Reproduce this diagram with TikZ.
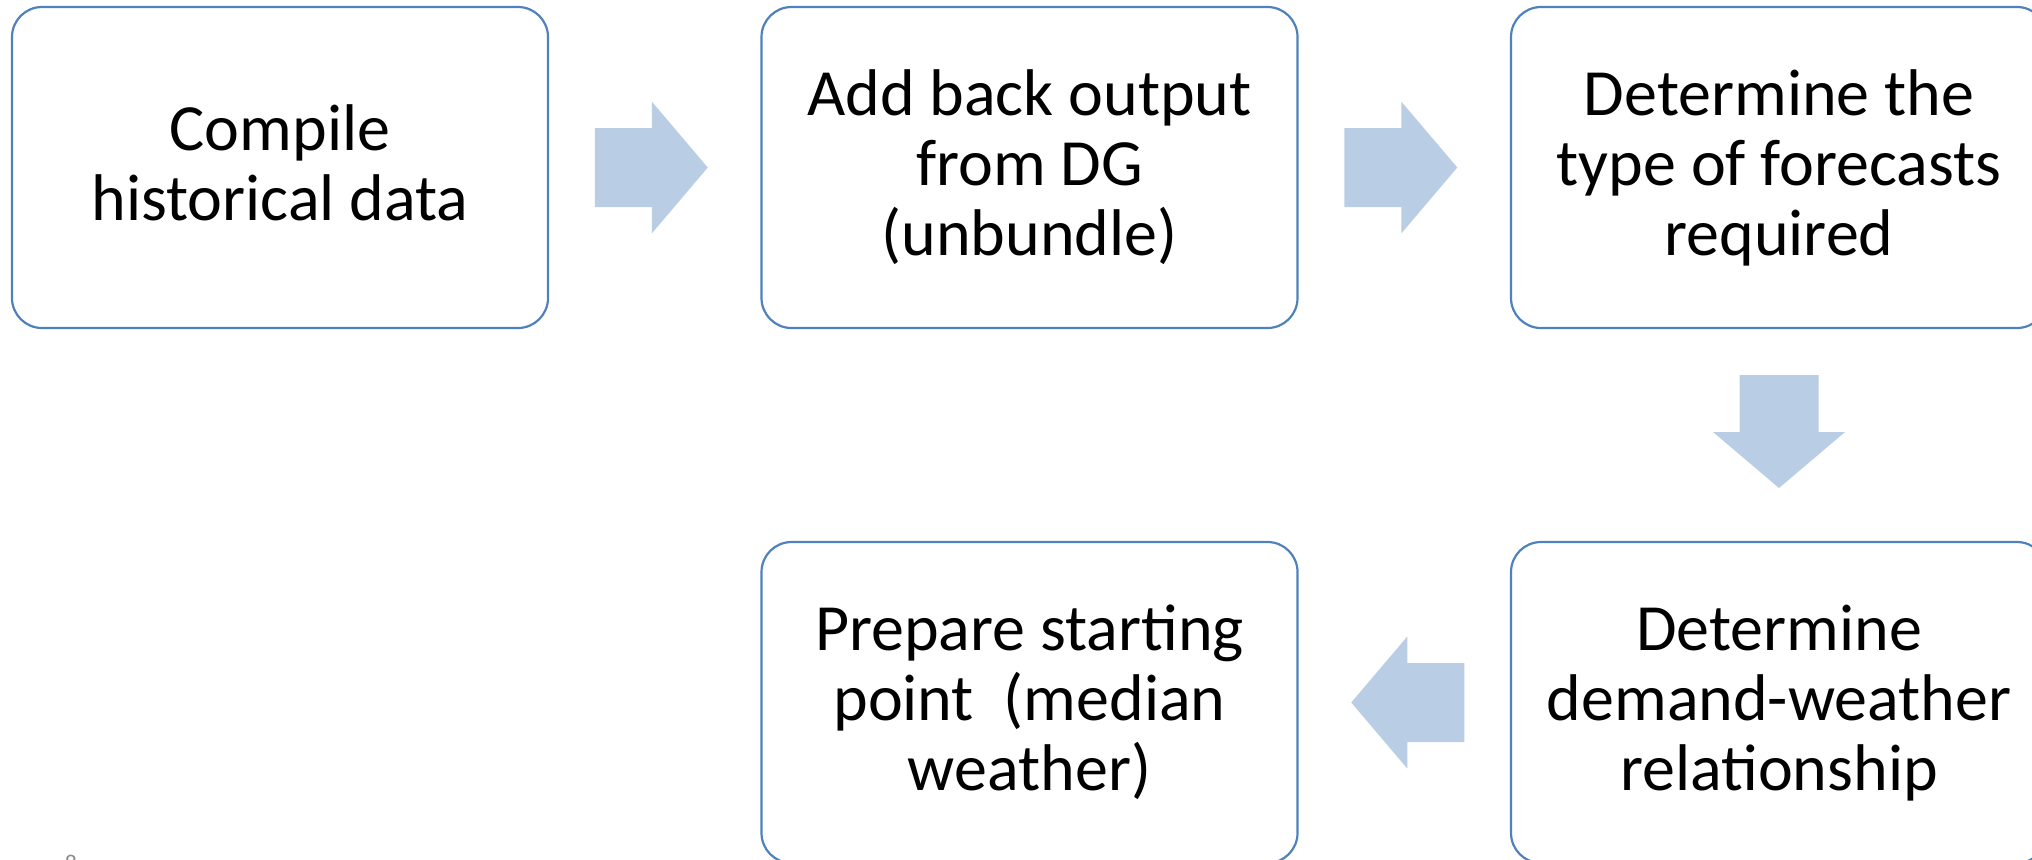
\documentclass[tikz,border=0pt]{standalone}
\usepackage{fontspec}
\setmainfont{Carlito}
\usetikzlibrary{calc}
\definecolor{boxblue}{HTML}{4F81BD}
\definecolor{arrowblue}{HTML}{B9CDE5}
\definecolor{pagegray}{HTML}{8C8C8C}
\newcommand\tstrut{\rule[-8.5pt]{0pt}{35pt}}
\newcommand\blockarrow[2]{%
  \begin{scope}[shift={(#1)}, rotate=#2]
    \fill[arrowfill] (-60,-39.5) -- (-3,-39.5) -- (-3,-66) -- (53,0) -- (-3,66) -- (-3,39.5) -- (-60,39.5) -- cycle;
  \end{scope}}
\begin{document}
\begin{tikzpicture}[x=0.5pt,y=-0.5pt,
  box/.style={draw=boxblue, line width=1.1pt, rounded corners=15pt,
    minimum width=268pt, minimum height=160.5pt, inner sep=0pt,
    align=center, font=\fontsize{33pt}{35pt}\selectfont},
  arrowfill/.style={fill=arrowblue}]
\useasboundingbox (0,0) rectangle (2032,859);
\clip (0,0) rectangle (2032,859);
\node[box] (b1) at (280,167.5) {\tstrut Compile\\historical data\tstrut};
\node[box] (b2) at (1029.5,167.5) {\tstrut Add back output\\from DG\\(unbundle)\tstrut};
\node[box] (b3) at (1779,167.5) {\tstrut Determine the\\type of forecasts\\required\tstrut};
\node[box] (b4) at (1779,702.5) {\tstrut Determine\\demand-weather\\relationship\tstrut};
\node[box] (b5) at (1029.5,702.5) {\tstrut Prepare starting\\point~~(median\\weather)\tstrut};
\coordinate (m1) at ($(b1.east)!0.5!(b2.west)$);
\coordinate (m2) at ($(b2.east)!0.5!(b3.west)$);
\coordinate (m3) at ($(b3.south)!0.5!(b4.north)$);
\coordinate (m4) at ($(b4.west)!0.5!(b5.east)$);
\blockarrow{m1}{0}
\blockarrow{m2}{0}
\blockarrow{m3}{-90}
\blockarrow{m4}{180}
\node[anchor=north, inner sep=0pt, text=pagegray, font=\fontsize{12pt}{14pt}\selectfont] (pg) at (71,855) {8};
\end{tikzpicture}
\end{document}
